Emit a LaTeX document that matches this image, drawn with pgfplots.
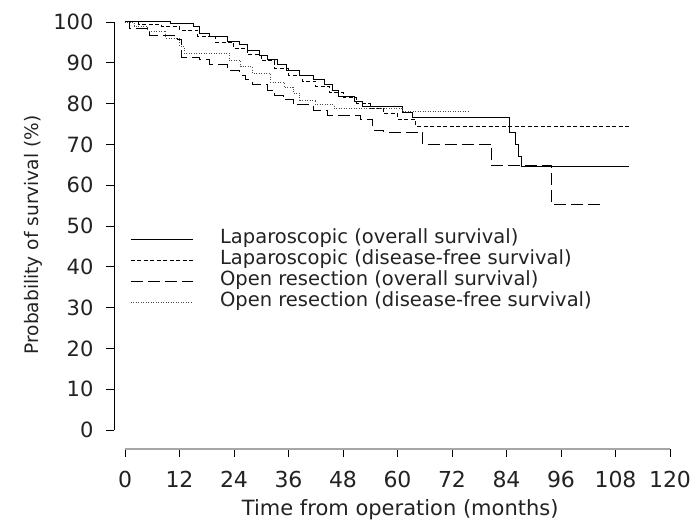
\documentclass[border=0pt]{standalone}
\usepackage{fontspec}
\setmainfont{DejaVu Sans}
\usepackage{pgfplots}
\pgfplotsset{compat=1.18}
\definecolor{txt}{HTML}{222222}
\begin{document}
\begin{tikzpicture}
\begin{axis}[
  scale only axis, width=545pt, height=408pt,
  xmin=0, xmax=120, ymin=0, ymax=100,
  axis x line*=bottom, axis y line*=left,
  axis x line shift=19pt, axis y line shift=11pt,
  x axis line style={-, draw=gray!70, line width=2pt},
  y axis line style={-, draw=black, line width=0.8pt},
  xtick={0,12,...,120}, ytick={0,10,...,100},
  tick align=outside, major tick length=8pt,
  tick style={black, line width=0.8pt},
  /pgf/number format/assume math mode=true,
  xticklabel style={font=\fontsize{22}{22}\selectfont, text=txt, yshift=-11pt},
  yticklabel style={font=\fontsize{21}{21}\selectfont, text=txt, xshift=-9pt},
  xlabel={Time from operation (months)},
  ylabel={Probability of survival (\%)},
  xlabel style={font=\fontsize{21}{21}\selectfont, text=txt, at={(axis description cs:0.505,-0.196)}, anchor=center},
  ylabel style={font=\fontsize{18.6}{18.6}\selectfont, text=txt, at={(axis description cs:-0.169,0.478)}, anchor=center},
  legend cell align=left,
  legend image code/.code={\draw[#1] (0pt,0pt) -- (62pt,0pt);},
  legend style={draw=none, fill=none, at={(axis description cs:0.009,0.494)}, anchor=north west,
    font=\fontsize{19.5}{19.5}\selectfont, text=txt, inner sep=0pt, row sep=0pt,
    nodes={inner sep=0pt, text height=15pt, text depth=6pt},
    /tikz/every odd column/.append style={column sep=27pt}},
  every axis plot/.append style={const plot, line width=1pt, black},
]
\coordinate (bl) at (axis cs:0,0);
% Laparoscopic overall survival
\addplot[solid] table {
x y
0 100
10 99.6
15 98.9
16.5 97.2
18.7 96.4
22.5 95.2
25.3 94.4
26.9 93.1
29.7 91.9
31.3 90.7
33.5 89.5
35.5 88.2
38.5 87.0
41.4 85.8
44 84.6
45.6 83.3
47 81.7
50.6 80.5
52.4 79.2
61.2 77.7
63.4 76.5
84.7 73.0
86.0 70.0
86.7 67.0
87.4 64.6
111 64.6
};
\addlegendentry{Laparoscopic (overall survival)}
% Laparoscopic disease-free survival
\addplot[dash pattern=on 4pt off 2.5pt] table {
x y
0 100
3 99.5
8 99
12 98
16 96.5
20 95
24 93.5
27 92
30 90.5
33 88.5
36 87
39 85.5
42 84.2
45 82.8
48 81.5
51 80
54 78.8
57 77.5
60 76
64 74.4
111 74.4
};
\addlegendentry{Laparoscopic (disease-free survival)}
% Open resection overall survival
\addplot[dash pattern=on 12pt off 5pt] table {
x y
0 100
1 98.5
5.5 96.8
11.5 95.6
12.5 91.4
16.5 90.7
18.7 89.5
22.5 88.2
25.3 87
26.5 85.8
28 84.6
31.3 83.3
33 82
34.8 80.9
37 79.7
41.4 78.4
44.5 77.2
51.8 76
54.6 73.5
57 73
65.6 70
80.8 64.8
94 55.2
105 55.2
};
\addlegendentry{Open resection (overall survival)}
% Open resection disease-free survival
\addplot[black!70, line width=0.8pt, dash pattern=on 1pt off 1.5pt] table {
x y
0 100
2 99
5 97.8
9 96
12 94
13 92.4
23 90.5
25.5 89
28 87.4
32 85.3
35 84
37 82.5
38.5 80.9
42 79.7
46 78.9
61 78
76 78
};
\addlegendentry{Open resection (disease-free survival)}
\end{axis}
\pgfresetboundingbox
\path[use as bounding box] ([shift={(-125pt,-94pt)}]bl) rectangle ([shift={(573pt,430pt)}]bl);
\end{tikzpicture}
\end{document}
